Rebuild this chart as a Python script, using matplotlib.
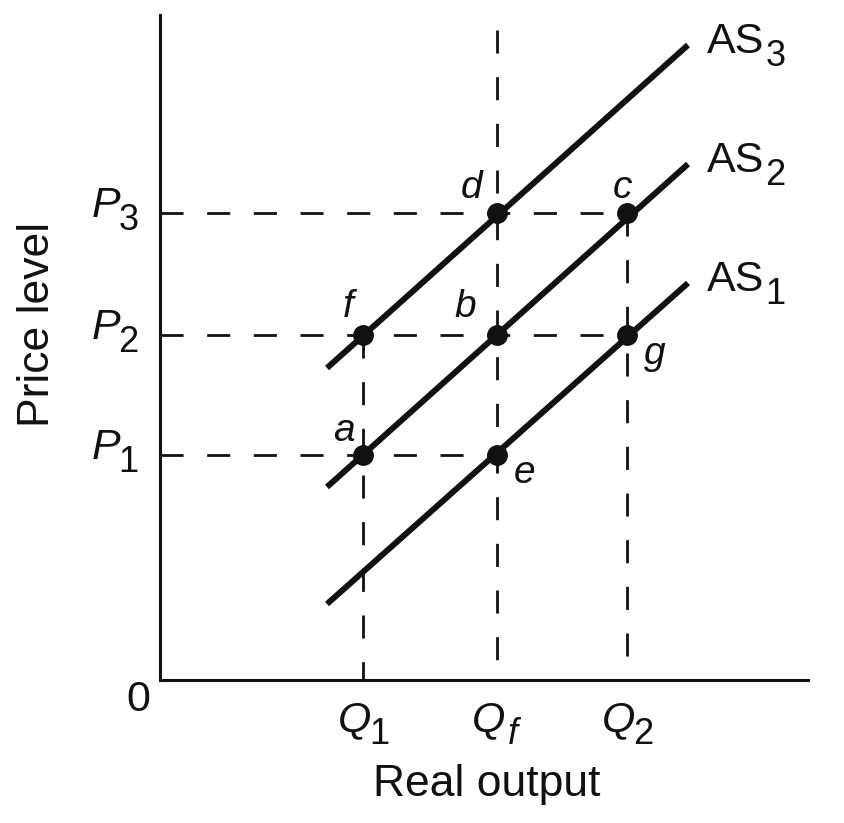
import matplotlib
matplotlib.use("Agg")
import matplotlib.pyplot as plt

plt.rcParams['font.family'] = ['Liberation Sans', 'DejaVu Sans']

# levels on the axes
q_main = ['Q', 'Q', 'Q']
q_sub = ['1', 'f', '2']
q_vals = [2.03, 3.37, 4.67]
p_main = ['P', 'P', 'P']
p_sub = ['1', '2', '3']
p_vals = [2.25, 3.45, 4.67]

# AS curves: start and end points
as_sub = ['1', '2', '3']
as_x = [1.67, 5.28]
as_y = [[0.76, 3.97], [1.93, 5.16], [3.12, 6.35]]

# labelled points (q index, p index)
pt_names = ['a', 'b', 'c', 'd', 'e', 'f', 'g']
pt_q = [0, 1, 2, 1, 1, 0, 2]
pt_p = [0, 1, 2, 2, 0, 1, 1]
pt_off = [(-14, 17), (-23, 20), (-3, 18), (-18, 18), (20, -13), (-11, 20), (20, -14)]

ink = '#111111'

fig = plt.figure(figsize=(8.45, 8.23), dpi=100)
ax = fig.add_axes([160 / 845, 143 / 823, 648 / 845, 665 / 823])
ax.set_xlim(0, 6.48)
ax.set_ylim(0, 6.65)
for s in ['top', 'right']:
    ax.spines[s].set_visible(False)
for s in ['left', 'bottom']:
    ax.spines[s].set_linewidth(2.2)
    ax.spines[s].set_color(ink)
ax.set_xticks([])
ax.set_yticks([])


def sub_label(xy, xycoords, off, main, sub, main_style, sub_style, size=31, sub_size=26):
    t = ax.annotate(main, xy, xycoords=xycoords, xytext=off, textcoords='offset pixels',
                    ha='left', va='baseline', fontsize=size, style=main_style, color=ink,
                    annotation_clip=False)
    # italic capitals leave a gap at the right of their box
    dx = -2 if main_style == 'italic' else 1
    if sub_style == 'italic':
        dx = 2
    ax.annotate(sub, (1, 0), xycoords=t, xytext=(dx, -12), textcoords='offset pixels',
                ha='left', va='bottom', fontsize=sub_size, style=sub_style, color=ink,
                annotation_clip=False)


dash = dict(color=ink, lw=2, dashes=(8.3, 8.5), zorder=1)
# horizontal guides
ax.plot([0, q_vals[1]], [p_vals[0]] * 2, **dash)
ax.plot([0, q_vals[2]], [p_vals[1]] * 2, **dash)
ax.plot([0, q_vals[2]], [p_vals[2]] * 2, **dash)
# vertical guides
ax.plot([q_vals[0]] * 2, [p_vals[1], 0], **dash)
ax.plot([q_vals[1]] * 2, [6.5, 0], **dash)
ax.plot([q_vals[2]] * 2, [p_vals[2], 0], **dash)

for sub, ys in zip(as_sub, as_y):
    ax.plot(as_x, ys, color=ink, lw=4.3, solid_capstyle='butt', zorder=2)
    sub_label((as_x[1], ys[1]), 'data', (19, -8), 'AS', sub, 'normal', 'normal')

for name, qi, pi, off in zip(pt_names, pt_q, pt_p, pt_off):
    x, y = q_vals[qi], p_vals[pi]
    ax.plot(x, y, 'o', color=ink, ms=14, zorder=3)
    ax.annotate(name, (x, y), xytext=off, textcoords='offset points',
                ha='center', va='center', fontsize=28, style='italic', color=ink)

# axis level labels
for m, s, q in zip(q_main, q_sub, q_vals):
    sub_label((q, 0), 'data', (-25, -51), m, s, 'italic', 'italic' if s == 'f' else 'normal')
for m, s, p in zip(p_main, p_sub, p_vals):
    sub_label((0, p), 'data', (-68, -4), m, s, 'italic', 'normal')

ax.annotate('0', (0, 0), xytext=(-22, -20), textcoords='offset pixels',
            ha='center', va='center', fontsize=31, color=ink, annotation_clip=False)

ax.set_xlabel('Real output', fontsize=32, color=ink)
ax.xaxis.set_label_coords(0.505, -0.126)
ax.set_ylabel('Price level', fontsize=32, color=ink)
ax.yaxis.set_label_coords(-0.157, 0.535)

fig.savefig('out.png', dpi=100)
